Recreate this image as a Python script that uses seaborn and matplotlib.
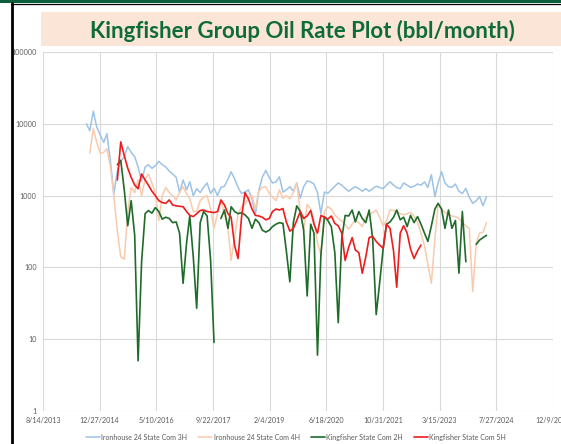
import numpy as np
import pandas as pd
import matplotlib
matplotlib.use("Agg")
import matplotlib.pyplot as plt
import seaborn as sns
from matplotlib.lines import Line2D
from matplotlib.patches import Rectangle
from matplotlib.ticker import NullLocator

# ---------------------------------------------------------------- data
wells = [
    "Ironhouse 24 State Com 3H",
    "Ironhouse 24 State Com 4H",
    "Kingfisher State Com 2H",
    "Kingfisher State Com 5H",
]

# monthly oil volumes (bbl/month); None = no production reported
ironhouse_3h_start = "2014-09-01"
ironhouse_3h = [
    10000, 8000, 15000, 9000, 7000, 5500, 7300, 3000, 1050, 2200,
    3000, 3500, 4800, 4000, 3500, 2500, 1600, 2500, 2700, 2400,
    2600, 3000, 2700, 2500, 2200, 2000, 1800, 1100, 1650, 1200,
    1560, 1000, 1250, 1100, 1300, 1500, 1070, 1270, 1000, 1300,
    1350, 1700, 2150, 1700, 1300, 1070, 1120, 1200, 900, 540,
    1200, 1800, 2250, 1770, 1500, 1550, 1830, 1120, 1200, 1330,
    1150, 1500, 920, 1330, 1600, 1550, 1450, 1100, 560, 1120,
    1080, 1200, 1350, 1500, 1400, 1260, 1150, 1250, 1330, 1250,
    1150, 1250, 1150, 1250, 1350, 1300, 1250, 1400, 1560, 1400,
    1300, 1250, 1500, 1400, 1300, 1350, 1450, 1400, 1550, 1300,
    1950, 970, 1500, 2150, 1500, 1330, 1300, 1450, 1150, 1070,
    1260, 950, 780, 850, 970, 720, 970,
]

ironhouse_4h_start = "2014-10-01"
ironhouse_4h = [
    3900, 8600, 5500, 3900, 4000, 4500, 2500, 1000, 320,
    140, 130, 600, 1300, 1100, 1650, 1000, 1700, 2000, 1500,
    1100, 450, 1000, 1300, 1100, 1000, 870, 1100, 1330, 1050,
    900, 600, 600, 850, 950, 1000, 650, 350, 560, 850,
    550, 350, 125, 270, 550, 700, 750, 950, 1000, 650,
    1150, 1300, 1330, 1070, 950, 850, 1200, 920, 1000, 900,
    1100, 1500, 600, 330, 750, 650, 450, 220, 150, 600,
    700, 650, 540, 480, 440, 400, 340, 400, 460, 420,
    370, 500, 540, 580, 630, 500, 380, 450, 630, 620,
    600, 560, 540, 560, 580, 520, 420, 300, 200, 110,
    60, 250, 740, 650, 580, 550, 520, 510, 480, 420,
    380, 350, 46, 220, 300, 310, 420,
]

kingfisher_2h_start = "2015-06-01"
kingfisher_2h = [
    2700,
    3100, 1200, 380, 850, 280, 5, 120, 560, 620, 570,
    680, 600, 470, 500, 480, 420, 430, 300, 60, 220,
    520, 140, 27, 420, 600, 520, 125, 9, None, 480,
    630, 350, 700, 600, 560, 580, 540, 480, 350, 470,
    420, 330, 310, 330, 370, 400, 420, 410, 170, 63,
    420, 720, 600, 330, 40, 400, 300, 6, 150, 510,
    450, 370, 160, 17, 250, 530, 520, 630, 430, 600,
    480, 420, 630, 250, 22, 60, 180, 400, 430, 500,
    630, 460, 500, 370, 530, 420, 510, 400, 300, 230,
    380, 650, 780, 650, 350, 630, 350, 450, 83, 600,
    120, None, None, 210, 240, 260, 280,
]

kingfisher_5h_start = "2015-06-01"
kingfisher_5h = [
    1650,
    5600, 3600, 2400, 1800, 1400, 1250, 2000, 1650, 1400, 1150,
    1000, 850, 800, 780, 870, 740, 720, 710, 700, 600,
    530, 510, 560, 620, 630, 600, 590, 580, 600, 870,
    740, 560, 500, 200, 133, 500, 1100, 900, 650, 530,
    520, 500, 460, 480, 600, 650, 630, 660, 430, 320,
    350, 450, 600, 480, 520, 620, 400, 300, 530, 500,
    470, 520, 410, 380, 300, 125, 190, 260, 175, 160,
    83, 140, 260, 270, 230, 205, 185, 400, 350, 170,
    53, 300, 380, 300, 180, 133, 170, 205,
]

x_tick_labels = ["8/14/2013", "12/27/2014", "5/10/2016", "9/22/2017", "2/4/2019",
                 "6/18/2020", "10/31/2021", "3/15/2023", "7/27/2024", "12/9/2025"]
y_ticks = [1, 10, 100, 1000, 10000, 100000]
y_tick_labels = ["1", "10", "100", "1000", "10000", "100000"]

title = "Kingfisher Group Oil Rate Plot (bbl/month)"

# ---------------------------------------------------------------- styling
colors = {
    wells[0]: "#9DC3E6",
    wells[1]: "#F8CBAD",
    wells[2]: "#1F6B2A",
    wells[3]: "#EE1C1C",
}
widths = {wells[0]: 1.1, wells[1]: 1.1, wells[2]: 1.2, wells[3]: 1.2}

sns.set_theme(style="white")
plt.rcParams["font.family"] = ["Lato", "DejaVu Sans"]

# ---------------------------------------------------------------- long table
frames = []
for name, start, vals in [
    (wells[0], ironhouse_3h_start, ironhouse_3h),
    (wells[1], ironhouse_4h_start, ironhouse_4h),
    (wells[2], kingfisher_2h_start, kingfisher_2h),
    (wells[3], kingfisher_5h_start, kingfisher_5h),
]:
    d = pd.DataFrame({
        "date": pd.date_range(start, periods=len(vals), freq="MS"),
        "rate": np.array(vals, dtype=float),
    })
    d["well"] = name
    d["seg"] = d["rate"].isna().cumsum()   # break the line where months are missing
    frames.append(d.dropna())
df = pd.concat(frames, ignore_index=True)

# ---------------------------------------------------------------- figure
W, H = 561, 444
fig = plt.figure(figsize=(W / 100, H / 100), dpi=100)
fig.patch.set_facecolor("white")

# page decoration: green strip, black frame, banner behind the title
fig.patches.append(Rectangle((0, 1 - 3 / H), 1, 3 / H, transform=fig.transFigure,
                             facecolor="#0B5E3B", edgecolor="none", zorder=0))
fig.lines.append(Line2D([11.5 / W, 11.5 / W], [0, 1 - 3.5 / H], transform=fig.transFigure,
                        color="black", lw=2.0))
fig.lines.append(Line2D([11 / W, 1], [1 - 4.5 / H, 1 - 4.5 / H], transform=fig.transFigure,
                        color="black", lw=0.9))
fig.patches.append(Rectangle((41 / W, 1 - 46.5 / H), 1 - 41 / W, 34 / H,
                             transform=fig.transFigure, facecolor="#FBE5D6",
                             edgecolor="none", zorder=0))
fig.text(302 / W, 1 - 37.5 / H, title, ha="center", va="baseline",
         fontsize=16, fontweight="bold", color="#0E6B3A")

ax = fig.add_axes([43 / W, (H - 411) / H, (553 - 43) / W, (411 - 52) / H])
ax.set_facecolor("white")

for name in wells:
    sub = df[df["well"] == name]
    sns.lineplot(data=sub, x="date", y="rate", units="seg", estimator=None,
                 sort=False, color=colors[name], linewidth=widths[name],
                 ax=ax, legend=False)

ax.set_yscale("log")
ax.set_ylim(1, 100000)
ax.set_yticks(y_ticks)
ax.set_yticklabels(y_tick_labels)
ax.yaxis.set_minor_locator(NullLocator())

x_ticks = pd.to_datetime(x_tick_labels, format="%m/%d/%Y")
ax.set_xlim(x_ticks[0], x_ticks[-1])
ax.set_xticks(x_ticks)
ax.set_xticklabels(x_tick_labels)

ax.set_xlabel("")
ax.set_ylabel("")
ax.grid(True, which="major", color="#D9D9D9", linewidth=0.8)
ax.set_axisbelow(True)
for s in ax.spines.values():
    s.set_visible(False)
ax.tick_params(axis="both", length=0, labelsize=5.1, colors="#595959")
ax.tick_params(axis="x", pad=4)
ax.tick_params(axis="y", pad=4.5)

handles = [Line2D([], [], color=colors[n], lw=widths[n]) for n in wells]
fig.legend(handles, wells, loc="center", bbox_to_anchor=(296 / W, 1 - 437 / H),
           ncol=4, frameon=False, fontsize=5.0, handlelength=2.0,
           handletextpad=0.2, columnspacing=1.6, labelcolor="#595959")

fig.savefig("out.png", dpi=100)
